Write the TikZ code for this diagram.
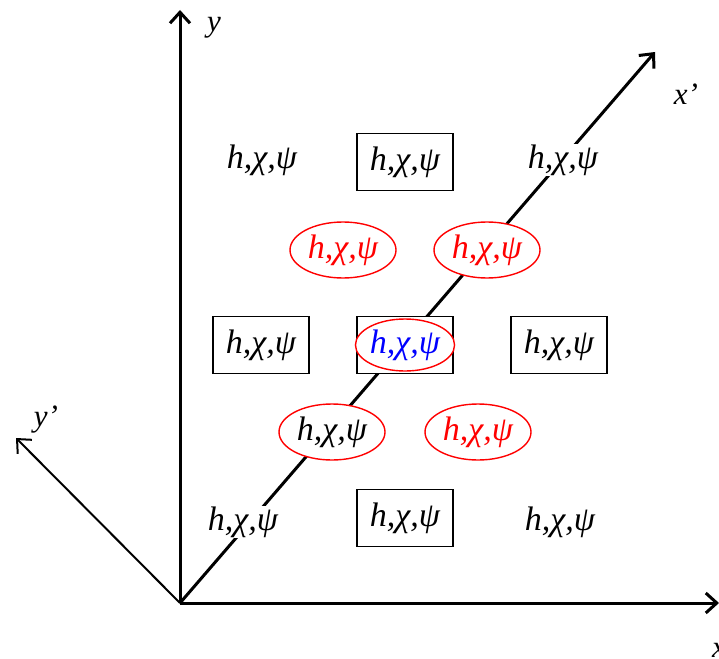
\documentclass[tikz,border=0pt]{standalone}
\usepackage{fontspec}
\setmainfont{Liberation Serif}
\usepackage{tikz}
\usetikzlibrary{arrows.meta,shapes.geometric}

\newcommand{\hcp}{\itshape h,χ,ψ}

\begin{document}
\begin{tikzpicture}[x=1pt, y=-1pt,
  axis/.style={line width=3pt, -{Straight Barb[length=11pt, width=20pt, line width=3pt]}},
  thinaxis/.style={line width=2pt, -{Straight Barb[length=11pt, width=20pt, line width=2pt]}},
  field/.style={fill=white, inner sep=1pt, font=\fontsize{34}{40}\selectfont},
  cell/.style={field, draw, line width=1.6pt, minimum width=96pt, minimum height=57pt},
  halo/.style={field, ellipse, draw=red, line width=1.4pt, minimum width=106pt, minimum height=56pt, inner sep=0pt},
  lbl/.style={font=\fontsize{31}{36}\selectfont\itshape}
]
  \useasboundingbox (0,0) rectangle (719,658);
  % axes
  \coordinate (o) at (180,603);
  \coordinate (yend) at (180,10);
  \coordinate (xend) at (719,603);
  \coordinate (xpend) at (655,52);
  \coordinate (ypend) at (16,438);
  \draw[axis] (o) -- (yend);
  \draw[axis] (o) -- (xend);
  \draw[axis] (o) -- (xpend);
  \draw[thinaxis] (o) -- (ypend);
  \node[lbl] (ylab) at (214,28) {y};
  \node[lbl] (xlab) at (719,650) {x};
  \node[lbl] (xplab) at (686,94) {x’};
  \node[lbl] (yplab) at (46,420) {y’};
  % top row
  \node[field] (hTL) at (262,160) {\hcp};
  \node[cell] (bTop) at (405,162) {\hcp};
  \node[field] (hTR) at (563,160) {\hcp};
  % upper halos
  \node[halo, text=red] (eUL) at (343,250) {\hcp};
  \node[halo, text=red] (eUR) at (487,250) {\hcp};
  % middle row
  \node[cell] (bLeft) at (261,345) {\hcp};
  \node[cell] (bCenter) at (405,345) {};
  \node[halo, text=blue, minimum width=94pt, minimum height=52pt] (eCenter) at (405,345) {\hcp};
  \node[cell] (bRight) at (559,345) {\hcp};
  % lower halos
  \node[halo] (eLL) at (332,432) {\hcp};
  \node[halo, text=red] (eLR) at (478,432) {\hcp};
  % bottom row
  \node[field] (hBL) at (243,522) {\hcp};
  \node[cell] (bBottom) at (405,518) {\hcp};
  \node[field] (hBR) at (560,522) {\hcp};
\end{tikzpicture}
\end{document}
